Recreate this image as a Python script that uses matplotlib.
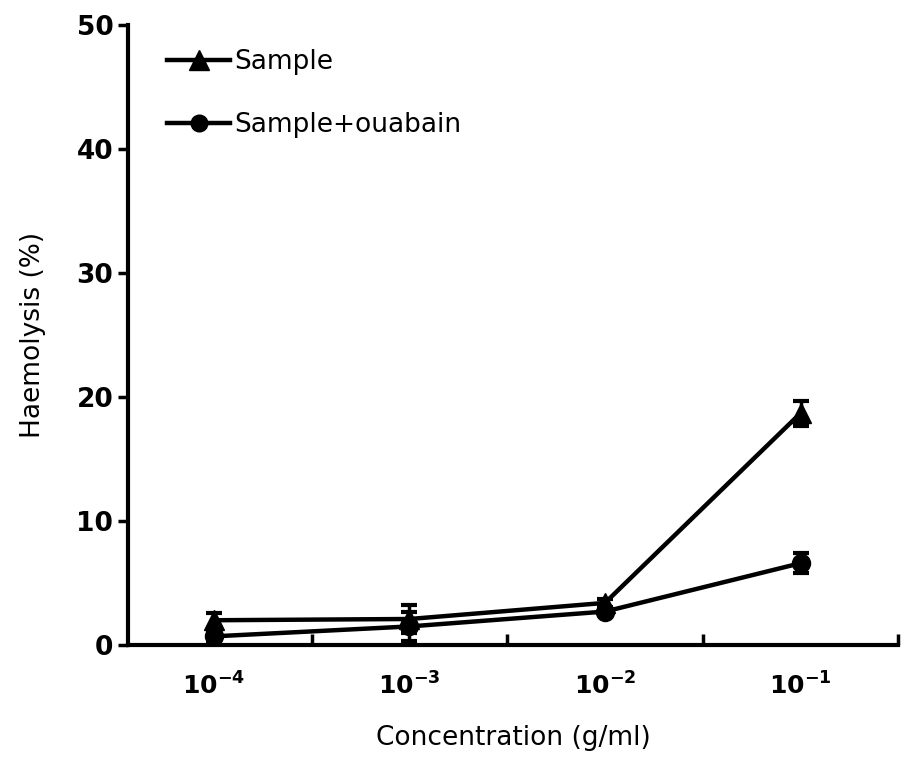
import matplotlib
matplotlib.use("Agg")
import matplotlib.pyplot as plt
from matplotlib.lines import Line2D
import numpy as np

categories = ["10$^{\\mathbf{-4}}$", "10$^{\\mathbf{-3}}$", "10$^{\\mathbf{-2}}$", "10$^{\\mathbf{-1}}$"]
sample = [2.0, 2.1, 3.4, 18.7]
sample_err = [0.6, 1.1, 0.3, 1.0]
ouabain = [0.7, 1.5, 2.7, 6.6]
ouabain_err = [0.5, 1.2, 0.3, 0.8]
y_ticks = [0, 10, 20, 30, 40, 50]

plt.rcParams['font.family'] = ['DejaVu Sans']
fig = plt.figure(figsize=(9.01, 7.62), dpi=100)
ax = fig.add_axes([0.142, 0.1535, 0.855, 0.8135])

x = np.arange(len(categories))
ax.errorbar(x, sample, yerr=sample_err, color='black', lw=3.2, marker='^',
            markersize=14, capsize=6, capthick=3, elinewidth=2.5)
ax.errorbar(x, ouabain, yerr=ouabain_err, color='black', lw=3.2, marker='o',
            markersize=13, capsize=6, capthick=3, elinewidth=2.5)

ax.set_xlim(-0.44, 3.5)
ax.set_ylim(0, 50)
ax.set_yticks(y_ticks)
ax.set_yticklabels([str(v) for v in y_ticks], fontsize=19, fontweight='bold')
ax.set_xticks(x)
ax.set_xticklabels(categories, fontsize=18, fontweight='bold')
ax.tick_params(axis='x', which='major', length=0, pad=20)
ax.set_xticks(x + 0.5, minor=True)
ax.tick_params(axis='x', which='minor', direction='in', length=8, width=2.5)
ax.tick_params(axis='y', direction='out', length=7, width=2.5)

for s in ['top', 'right']:
    ax.spines[s].set_visible(False)
for s in ['left', 'bottom']:
    ax.spines[s].set_linewidth(3)

ax.set_xlabel('Concentration (g/ml)', fontsize=19, labelpad=18)
ax.set_ylabel('Haemolysis (%)', fontsize=19, labelpad=22)

handles = [Line2D([], [], color='black', lw=3.2, marker='^', markersize=14),
           Line2D([], [], color='black', lw=3.2, marker='o', markersize=12)]
ax.legend(handles, ['Sample', 'Sample+ouabain'], loc='upper left',
          bbox_to_anchor=(0.02, 1.0), frameon=False,
          fontsize=19, handlelength=2.4, handletextpad=0.15, labelspacing=1.4)

fig.savefig('out.png', dpi=100)
